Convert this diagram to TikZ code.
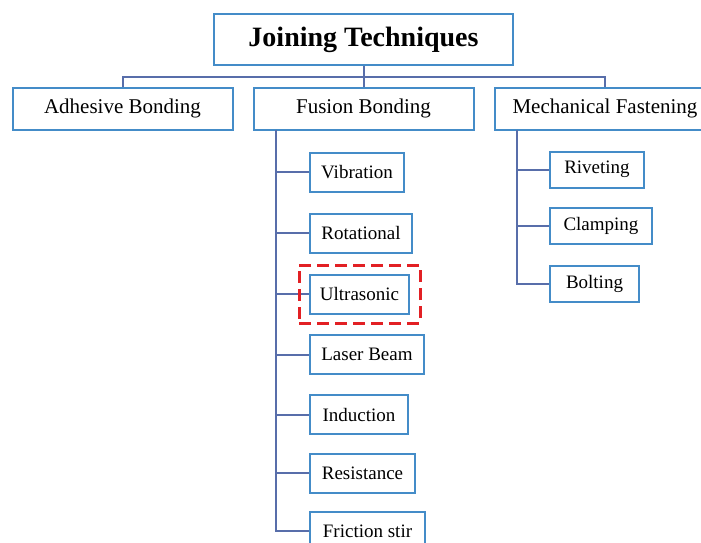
\documentclass[tikz,border=0pt]{standalone}
\usepackage{fontspec}
\setmainfont{Liberation Serif}
\usetikzlibrary{positioning, fit}
\definecolor{boxBlue}{RGB}{68,140,200}
\definecolor{linkBlue}{RGB}{88,110,170}
\definecolor{markRed}{RGB}{226,32,36}
\tikzset{
  techBox/.style={draw=boxBlue, line width=2pt, fill=white, align=center,
    inner sep=0pt, font=\fontsize{19}{21}\selectfont},
  rootBox/.style={techBox, minimum width=299pt, minimum height=51pt,
    font=\fontsize{28}{32}\selectfont\bfseries},
  groupBox/.style={techBox, minimum width=220pt, minimum height=42pt,
    font=\fontsize{21}{24}\selectfont},
  leafBox/.style={techBox, minimum height=39pt},
  link/.style={draw=linkBlue, line width=2pt},
  highlight/.style={draw=markRed, line width=3pt, dash pattern=on 12pt off 6pt}
}
\begin{document}
\begin{tikzpicture}[x=1pt, y=1pt]
  \useasboundingbox (0,0) rectangle (701,-543);

  \node[rootBox] (root) at (363.5,-40) {Joining Techniques};

  \node[groupBox] (adhesive) at (122.5,-108.5) {Adhesive Bonding};
  \node[groupBox] (fusion) at (363.5,-108.5) {Fusion Bonding};
  \node[groupBox] (mech) at (605,-108.5) {Mechanical Fastening};

  % fusion bonding methods
  \node[leafBox, minimum width=94pt, anchor=west] (vib) at (309,-172) {Vibration};
  \node[leafBox, minimum width=102pt, anchor=west] (rot) at (309,-233) {Rotational};
  \node[leafBox, minimum width=99pt, anchor=west] (ultra) at (309,-294) {Ultrasonic};
  \node[leafBox, minimum width=114pt, anchor=west] (laser) at (309,-354.5) {Laser Beam};
  \node[leafBox, minimum width=98pt, anchor=west] (induct) at (309,-414.5) {Induction};
  \node[leafBox, minimum width=105pt, anchor=west] (resist) at (309,-473) {Resistance};
  \node[leafBox, minimum width=115pt, anchor=west] (fric) at (309,-531) {Friction stir};

  % mechanical fastening methods
  \node[leafBox, minimum width=94pt, minimum height=36pt, anchor=west] (rivet) at (549,-169.5) {Riveting};
  \node[leafBox, minimum width=102pt, minimum height=36pt, anchor=west] (clamp) at (549,-226) {Clamping};
  \node[leafBox, minimum width=89pt, minimum height=36pt, anchor=west] (bolt) at (549,-284) {Bolting};

  \coordinate (topBus) at (363.5,-77);
  \coordinate (fusSpine) at (276,-129.5);
  \coordinate (mechSpine) at (517,-129.5);

  \draw[link] (root.south) -- (topBus);
  \draw[link] (topBus) -| (adhesive.north);
  \draw[link] (topBus) -| (mech.north);
  \draw[link] (topBus) -- (fusion.north);

  \draw[link] (fusSpine) |- (fric.west);
  \foreach \n in {vib, rot, ultra, laser, induct, resist}
    \draw[link] (fusSpine |- \n.west) -- (\n.west);

  \draw[link] (mechSpine) |- (bolt.west);
  \foreach \n in {rivet, clamp}
    \draw[link] (mechSpine |- \n.west) -- (\n.west);

  \node[highlight, fit=(ultra), inner xsep=10pt, inner ysep=8.5pt] (mark) {};
\end{tikzpicture}
\end{document}
